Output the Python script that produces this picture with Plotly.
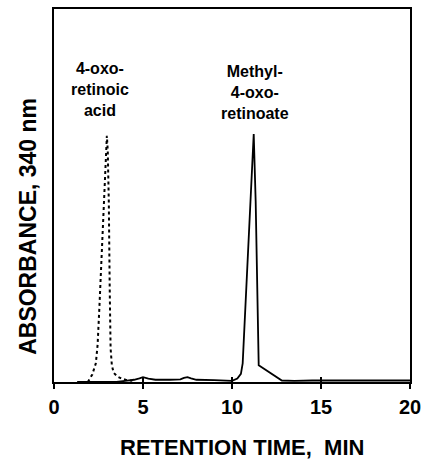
import plotly.graph_objects as go

# 4-oxo-retinoic acid (dotted trace)
acid_time = [1.9, 2.15, 2.35, 2.45, 2.55, 2.65, 2.75, 2.85, 2.93, 2.97, 3.02, 3.08, 3.13, 3.18, 3.25, 3.35, 3.55, 3.8, 4.1, 4.4]
acid_abs = [0, 2, 5, 10, 20, 31, 43, 54, 62, 66, 62, 48, 25, 9, 4.5, 2.5, 1.5, 0.9, 0.5, 0.3]

# Methyl-4-oxo-retinoate (solid trace)
ester_time = [1.3, 3.5, 4.0, 4.5, 4.8, 5.0, 5.3, 5.7, 6.5, 7.1, 7.3, 7.5, 7.7, 8.0, 9.0, 9.8, 10.0,
              10.3, 10.5, 10.6, 11.1, 11.22, 11.33, 11.5, 12.8, 13.5, 14.5, 15.5, 16.5, 17.5, 18.5, 19.5, 20]
ester_abs = [0, 0, 0.3, 0.6, 1.0, 1.3, 0.9, 0.6, 0.6, 0.7, 1.1, 1.3, 1.0, 0.6, 0.5, 0.5, 0.3,
             0.9, 2.2, 5, 57, 66.5, 48.5, 4.5, 0.4, 0.3, 0.4, 0.4, 0.5, 0.4, 0.5, 0.4, 0.4]

x_ticks = [0, 5, 10, 15, 20]

label_acid = ["4-oxo-", "retinoic", "acid"]
label_ester = ["Methyl-", "4-oxo-", "retinoate"]

FONT = "Liberation Sans, Arial, Helvetica, sans-serif"

fig = go.Figure()
fig.add_trace(go.Scatter(x=acid_time, y=acid_abs, mode="lines",
                         line=dict(color="black", width=2, dash="dot"), showlegend=False))
fig.add_trace(go.Scatter(x=ester_time, y=ester_abs, mode="lines",
                         line=dict(color="black", width=1.8), showlegend=False))
# dummy trace to anchor the crossing (inside) tick axis
fig.add_trace(go.Scatter(x=[0], y=[0], xaxis="x2", mode="markers",
                         marker=dict(opacity=0), showlegend=False, hoverinfo="skip"))

L, R, T, B = 54, 19, 7, 78
W, H = 429, 460
plot_h = H - T - B

def py(p):
    return (H - B - p) / plot_h

anns = [
    dict(x=2.58, y=py(88), xref="x", yref="paper", text="<br>".join(label_acid),
         showarrow=False, font=dict(family=FONT, size=16, color="black", weight="bold"),
         xanchor="center", yanchor="middle", align="center"),
    dict(x=11.3, y=py(91), xref="x", yref="paper", text="<br>".join(label_ester),
         showarrow=False, font=dict(family=FONT, size=16, color="black", weight="bold"),
         xanchor="center", yanchor="middle", align="center"),
    dict(x=(28 - L) / (W - L - R), y=py(226), xref="paper", yref="paper",
         text="ABSORBANCE, 340 nm", textangle=-90, showarrow=False,
         font=dict(family=FONT, size=23, color="black", weight="bold"),
         xanchor="center", yanchor="middle"),
    dict(x=(241.5 - L) / (W - L - R), y=py(448), xref="paper", yref="paper",
         text="RETENTION TIME,&nbsp; MIN", showarrow=False,
         font=dict(family=FONT, size=22, color="black", weight="bold"),
         xanchor="center", yanchor="middle"),
]

fig.update_layout(
    width=W, height=H,
    margin=dict(l=L, r=R, t=T, b=B),
    paper_bgcolor="white", plot_bgcolor="white",
    annotations=anns,
    xaxis=dict(range=[0, 20], tickvals=x_ticks, ticktext=[str(v) for v in x_ticks],
               ticks="outside", ticklen=5, tickwidth=1.5, tickcolor="black",
               showline=True, linecolor="black", linewidth=1.5, mirror=True,
               showgrid=False, zeroline=False, ticklabelstandoff=1,
               tickfont=dict(family=FONT, size=20, color="black", weight="bold")),
    xaxis2=dict(range=[0, 20], overlaying="x", matches="x", side="bottom", anchor="y",
                tickvals=x_ticks, ticks="inside", ticklen=5, tickwidth=1.5, tickcolor="black",
                showticklabels=False, showgrid=False, zeroline=False, showline=False),
    yaxis=dict(range=[0, 100], showticklabels=False, ticks="",
               showline=True, linecolor="black", linewidth=1.5, mirror=True,
               showgrid=False, zeroline=False),
)

fig.write_html("out.html")
